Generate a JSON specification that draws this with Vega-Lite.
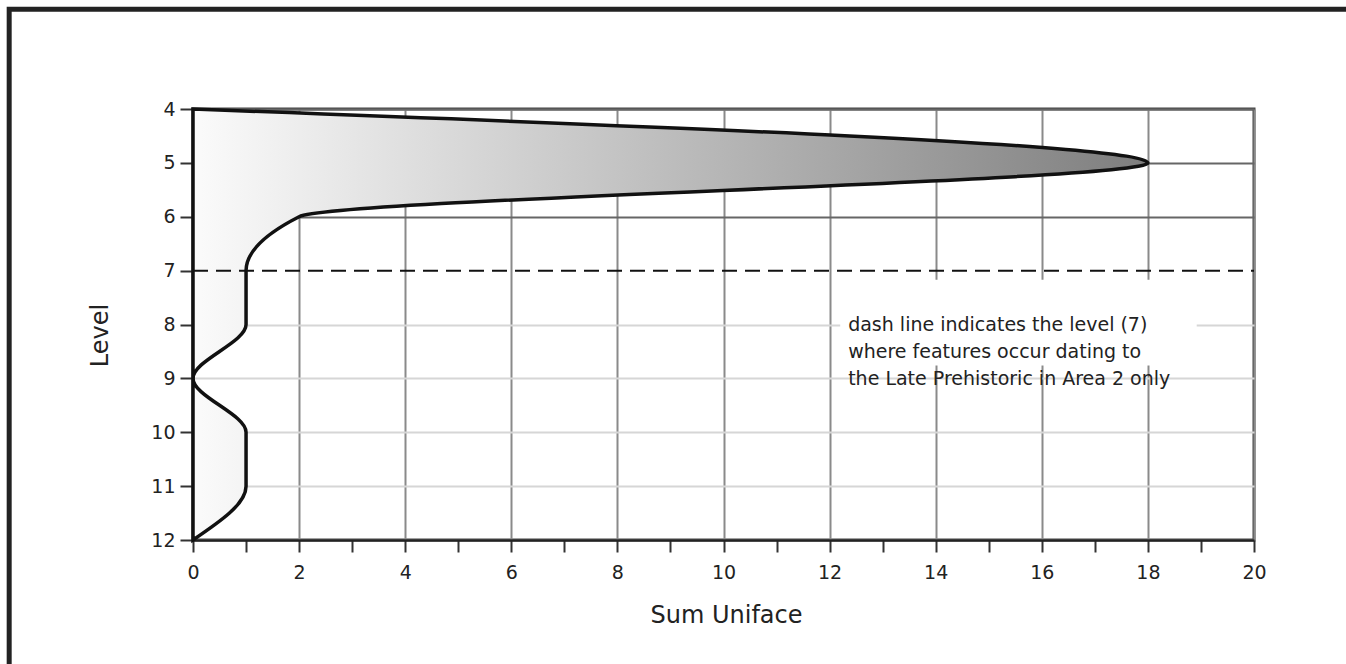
{
  "$schema": "https://vega.github.io/schema/vega-lite/v6.json",
  "width": 1061,
  "height": 431,
  "autosize": {"type": "none"},
  "padding": {"left": 193, "top": 109, "right": 92, "bottom": 124},
  "background": "white",
  "config": {
    "view": {"stroke": "#444", "strokeWidth": 3},
    "font": "DejaVu Sans"
  },
  "data": {
    "values": [
      {"level": 4, "uniface": 0},
      {"level": 5, "uniface": 18},
      {"level": 6, "uniface": 2},
      {"level": 7, "uniface": 1},
      {"level": 8, "uniface": 1},
      {"level": 9, "uniface": 0},
      {"level": 10, "uniface": 1},
      {"level": 11, "uniface": 1},
      {"level": 12, "uniface": 0}
    ]
  },
  "encoding": {
    "x": {
      "field": "uniface", "type": "quantitative", "stack": null,
      "scale": {"domain": [0, 20], "nice": false, "zero": true},
      "axis": {
        "title": "Sum Uniface",
        "values": [0,1,2,3,4,5,6,7,8,9,10,11,12,13,14,15,16,17,18,19,20],
        "labelExpr": "datum.value % 2 === 0 ? datum.label : ''",
        "labelFontSize": 19, "labelColor": "#222", "labelFont": "DejaVu Sans",
        "labelBaseline": "middle", "labelPadding": 20, "labelFlush": false,
        "tickSize": 12, "tickWidth": 2, "tickColor": "#333",
        "domainColor": "#222", "domainWidth": 2.5,
        "grid": true, "gridColor": "#8a8a8a", "gridWidth": 2,
        "gridOpacity": {"condition": {"test": "datum.value % 2 === 1", "value": 0}, "value": 1},
        "titleFontSize": 24, "titleFontWeight": "normal", "titleColor": "#222",
        "titleFont": "DejaVu Sans", "titleBaseline": "middle", "titleY": 75, "titleX": 533
      }
    },
    "y": {
      "field": "level", "type": "quantitative",
      "scale": {"domain": [4, 12], "nice": false, "zero": false, "reverse": true},
      "axis": {
        "title": "Level",
        "values": [4,5,6,7,8,9,10,11,12],
        "labelFontSize": 19, "labelColor": "#222", "labelFont": "DejaVu Sans",
        "labelPadding": 5, "labelFlush": false,
        "tickSize": 13, "tickWidth": 2, "tickColor": "#333",
        "domainColor": "#222", "domainWidth": 2.5,
        "grid": true, "gridWidth": 2,
        "gridColor": {"condition": {"test": "datum.value <= 6", "value": "#666"}, "value": "#d6d6d6"},
        "gridOpacity": {"condition": {"test": "datum.value === 7", "value": 0}, "value": 1},
        "titleFontSize": 24, "titleFontWeight": "normal", "titleColor": "#222",
        "titleFont": "DejaVu Sans", "titleAngle": -90, "titleAlign": "center",
        "titleBaseline": "middle", "titleX": -93, "titleY": 226
      }
    }
  },
  "layer": [
    {
      "transform": [{"filter": "datum.level === 4"}],
      "mark": {"type": "rect", "fill": "transparent", "stroke": "#222", "strokeWidth": 5, "clip": false},
      "encoding": {
        "x": {"datum": -3.465},
        "x2": {"datum": 22.2},
        "y": {"datum": 2.148},
        "y2": {"datum": 14.8}
      }
    },
    {
      "transform": [{"filter": "datum.level === 4"}],
      "mark": {"type": "rect", "color": "white"},
      "encoding": {
        "x": {"datum": 12.2},
        "x2": {"datum": 18.92},
        "y": {"datum": 7.17},
        "y2": {"datum": 8.76}
      }
    },
    {
      "mark": {
        "type": "area",
        "orient": "horizontal",
        "interpolate": "monotone",
        "stroke": "#111",
        "strokeWidth": 3.5,
        "strokeJoin": "miter",
        "color": {
          "gradient": "linear",
          "x1": 0, "x2": 1, "y1": 0, "y2": 0,
          "stops": [
            {"offset": 0, "color": "#fbfbfb"},
            {"offset": 1, "color": "#7e7e7e"}
          ]
        }
      }
    },
    {
      "transform": [{"filter": "datum.level === 4"}],
      "mark": {"type": "rule", "color": "#111", "strokeWidth": 2, "strokeDash": [15, 8]},
      "encoding": {"y": {"datum": 7}, "x": {"datum": 0}, "x2": {"datum": 20}}
    },
    {
      "transform": [{"filter": "datum.level === 4"}],
      "mark": {
        "type": "text",
        "text": ["dash line indicates the level (7)", "where features occur dating to", "the Late Prehistoric in Area 2 only"],
        "align": "left", "baseline": "middle", "lineHeight": 27,
        "fontSize": 19, "font": "DejaVu Sans", "color": "#222"
      },
      "encoding": {"x": {"datum": 12.35}, "y": {"datum": 8}}
    }
  ]
}
